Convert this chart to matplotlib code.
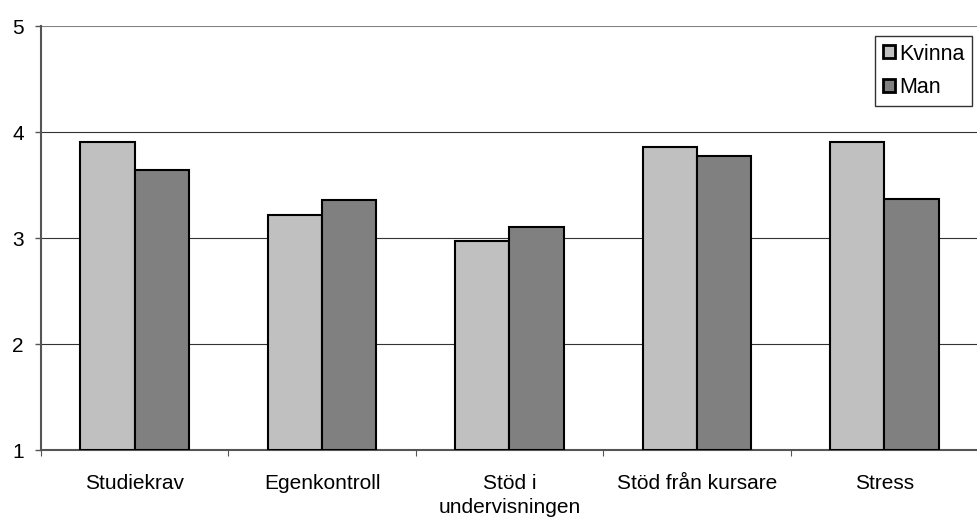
import matplotlib
matplotlib.use('Agg')
from matplotlib import pyplot as plt
import numpy as np

plt.rcParams['font.family'] = ['Liberation Sans', 'DejaVu Sans']

categories = ['Studiekrav', 'Egenkontroll', 'Stöd i\nundervisningen', 'Stöd från kursare', 'Stress']
kvinna = [3.91, 3.22, 2.97, 3.86, 3.91]
man = [3.64, 3.36, 3.10, 3.77, 3.37]
yticks = [1, 2, 3, 4, 5]

fig = plt.figure(figsize=(9.78, 5.17), dpi=100)
ax = fig.add_axes([41 / 978, 1 - 450 / 517, (978 - 41) / 978, (450 - 26) / 517])

x = np.arange(len(categories))
w = 0.29
ax.bar(x - w / 2, np.array(kvinna) - 1, w, bottom=1, color='#c0c0c0',
       edgecolor='black', linewidth=1.5, label='Kvinna', zorder=3)
ax.bar(x + w / 2, np.array(man) - 1, w, bottom=1, color='#808080',
       edgecolor='black', linewidth=1.5, label='Man', zorder=3)

ax.set_xlim(-0.5, len(categories) - 0.5)
ax.set_ylim(1, 5)
ax.set_yticks(yticks)
ax.tick_params(axis='y', labelsize=15, length=4.3, width=1, color='#555555', pad=8)
for yv in yticks[1:-1]:
    ax.axhline(yv, color='#333333', linewidth=0.8, zorder=1)
ax.axhline(5, color='#808080', linewidth=1.5, zorder=1)

ax.set_xticks(np.arange(len(categories) + 1) - 0.5, minor=False)
ax.set_xticklabels([])
ax.set_xticks(x, minor=True)
ax.set_xticklabels(categories, minor=True, fontsize=15, linespacing=1.35)
ax.tick_params(axis='x', which='minor', length=0, pad=17)
ax.tick_params(axis='x', which='major', length=4.3, color='#555555')

for s in ['top', 'right']:
    ax.spines[s].set_visible(False)
ax.spines['left'].set_color('#555555')
ax.spines['left'].set_linewidth(1.5)
ax.spines['bottom'].set_color('#555555')
ax.spines['bottom'].set_linewidth(1.5)

leg = ax.legend(loc='upper right', bbox_to_anchor=((972 - 41) / 937, 1 - 10 / 424),
                bbox_transform=ax.transAxes, fontsize=15.5, frameon=True, fancybox=False,
                handlelength=0.55, handleheight=0.55, handletextpad=0.2, borderpad=0.35,
                labelspacing=0.6, borderaxespad=0)
leg.get_frame().set_edgecolor('black')
leg.get_frame().set_linewidth(1)
for h in leg.legend_handles:
    h.set_linewidth(2)

fig.savefig('out.png', dpi=100)
